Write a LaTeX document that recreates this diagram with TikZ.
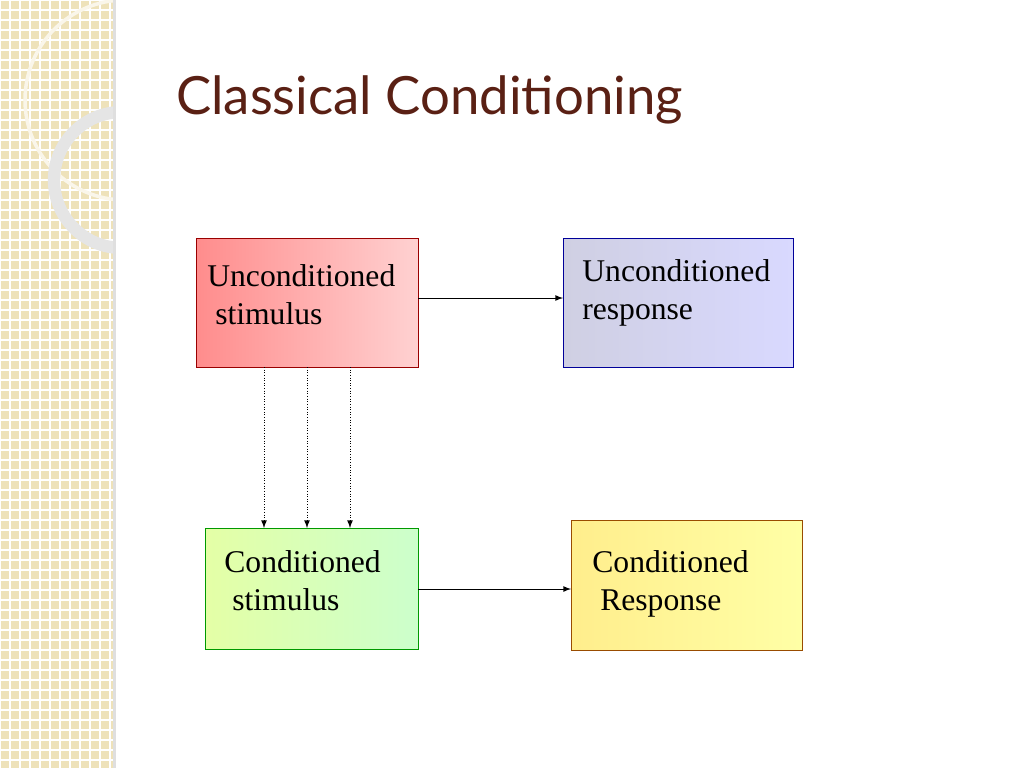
\documentclass[tikz,border=0pt]{standalone}
\usepackage{fontspec}
\setmainfont{Liberation Serif}
\newfontfamily\titlefont{Lato}
\usetikzlibrary{positioning}
\definecolor{titlebrown}{RGB}{90,32,20}
\definecolor{sidebeige}{RGB}{238,226,186}
\begin{document}
\begin{tikzpicture}[x=0.02cm,y=-0.02cm,
  box/.style={draw=#1!60!black, line width=0.5pt},
  lbl/.style={font=\fontsize{18}{22}\selectfont, align=left, anchor=north west, inner sep=0pt},
  link/.style={-latex, line width=0.5pt},
  dotlink/.style={-latex, densely dotted, line width=0.5pt}]
 \useasboundingbox (0,0) rectangle (1024,768);
 % side panel
 \fill[sidebeige] (0,0) rectangle (113,768);
 \begin{scope}
 \clip (0,0) rectangle (113,768);
 \foreach \g in {0,10,...,760}
 {\draw[white, line width=0.7pt] (\g,0) -- (\g,768);
  \draw[white, line width=0.7pt] (0,\g) -- (113,\g);}
 \draw[white!70!sidebeige, line width=2pt] (125,100) circle (100);
 \draw[white!80!gray, line width=7pt] (122,180) circle (68);
 \end{scope}
 \fill[gray!25] (113,0) rectangle (116,768);
 % title
 \node[anchor=west, text=titlebrown, font=\titlefont\fontsize{30}{36}\selectfont] (title) at (170,100) {Classical Conditioning};
 % boxes
 \shade[left color=red!45, right color=red!18] (196,238) rectangle (418,367);
 \draw[box=red] (196,238) coordinate (us nw) rectangle (418,367) coordinate (us se);
 \shade[left color=blue!25!gray!30, right color=blue!15!white] (563,238) rectangle (793,367);
 \draw[box=blue] (563,238) rectangle (793,367);
 \shade[left color=green!30!yellow!35, right color=green!20!white] (205,528) rectangle (418,649);
 \draw[box=green] (205,528) rectangle (418,649);
 \shade[left color=yellow!70!orange!45, right color=yellow!35] (571,520) rectangle (802,650);
 \draw[box=orange] (571,520) rectangle (802,650);
 \node[lbl] (us) at (207,264) {Unconditioned\\\ stimulus};
 \node[lbl] (ur) at (582,259) {Unconditioned\\response};
 \node[lbl] (cs) at (224,550) {Conditioned\\\ stimulus};
 \node[lbl] (cr) at (592,550) {Conditioned\\\ Response};
 % connectors
 \coordinate (usr) at (418,298); \coordinate (url) at (563,298);
 \coordinate (csr) at (418,589); \coordinate (crl) at (571,589);
 \draw[link] (usr) -- (url);
 \draw[link] (csr) -- (crl);
 \foreach \x in {264,307,350}
 {\coordinate (top\x) at (\x,367); \coordinate (bot\x) at (\x,528);
  \draw[dotlink] (top\x) -- (bot\x);}
\end{tikzpicture}
\end{document}
